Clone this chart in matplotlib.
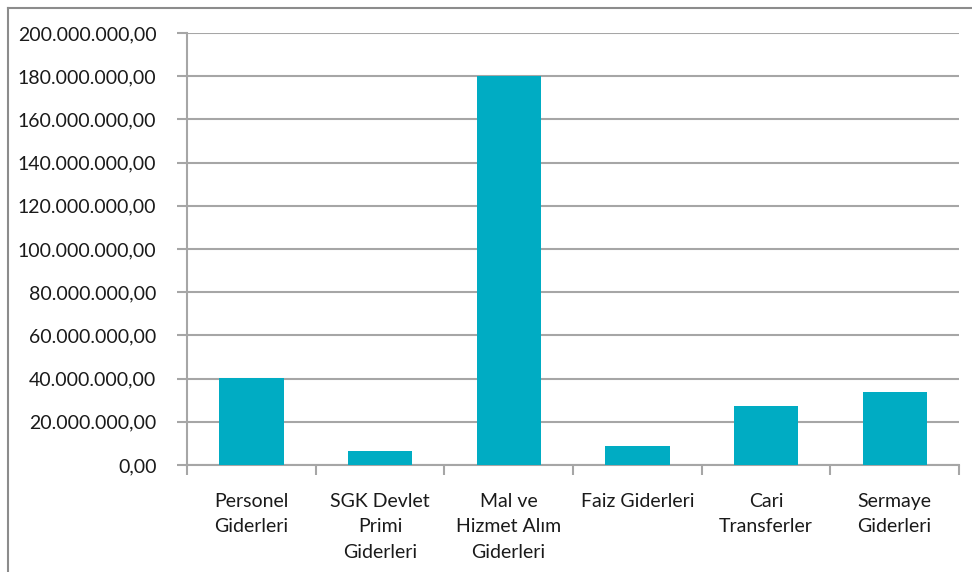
import matplotlib.pyplot as plt
from matplotlib.lines import Line2D
from matplotlib.ticker import FuncFormatter, MultipleLocator
import numpy as np

categories = ["Personel\nGiderleri", "SGK Devlet\nPrimi\nGiderleri",
              "Mal ve\nHizmet Alım\nGiderleri", "Faiz Giderleri",
              "Cari\nTransferler", "Sermaye\nGiderleri"]
values = [40.1e6, 6.3e6, 180.3e6, 8.8e6, 27.3e6, 33.6e6]

BAR_COLOR = "#00ACC3"
GRID_COLOR = "#A6A6A6"
FONT = ["Lato", "DejaVu Sans"]


def tr_format(v, pos):
    s = f"{v:,.2f}"
    return s.replace(",", "X").replace(".", ",").replace("X", ".")


def main():
    plt.rcParams['font.family'] = FONT
    fig = plt.figure(figsize=(9.72, 5.72), dpi=100)
    ax = fig.add_axes([187 / 972, 1 - 465 / 572, 772 / 972, 432 / 572])

    x = np.arange(len(categories))
    ax.bar(x, values, width=0.5, color=BAR_COLOR, zorder=3)

    ax.set_xlim(-0.5, len(categories) - 0.5)
    ax.set_ylim(0, 200e6)
    ax.yaxis.set_major_locator(MultipleLocator(20e6))
    ax.yaxis.set_major_formatter(FuncFormatter(tr_format))
    ax.grid(axis="y", color=GRID_COLOR, linewidth=1.5, zorder=0)
    ax.set_axisbelow(True)

    ax.set_xticks(x)
    ax.set_xticklabels(categories, multialignment="center", linespacing=1.6)
    ax.set_xticks(np.arange(-0.5, len(categories)), minor=True)
    ax.tick_params(axis="x", which="major", length=0, pad=20, labelsize=14,
                   colors="#1a1a1a")
    ax.tick_params(axis="x", which="minor", length=7, width=1.5,
                   color=GRID_COLOR, direction="out")
    ax.tick_params(axis="y", length=7, width=1.5, color=GRID_COLOR,
                   pad=15, labelsize=14, labelcolor="#1a1a1a")

    for side in ("top", "right"):
        ax.spines[side].set_visible(False)
    for side in ("left", "bottom"):
        ax.spines[side].set_color(GRID_COLOR)
        ax.spines[side].set_linewidth(1.5)

    # chart area border (left and top only visible)
    fig.add_artist(Line2D([8 / 972, 8 / 972], [0, 1 - 8 / 572],
                          transform=fig.transFigure, color="#8C8C8C", lw=1.5))
    fig.add_artist(Line2D([8 / 972, 1], [1 - 8 / 572, 1 - 8 / 572],
                          transform=fig.transFigure, color="#8C8C8C", lw=1.5))

    fig.savefig("out.png", dpi=100)


if __name__ == '__main__':
    main()
